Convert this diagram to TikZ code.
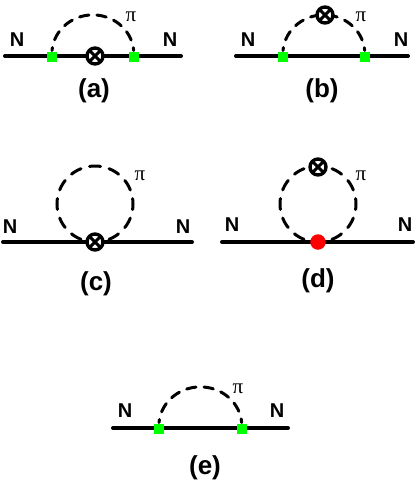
\documentclass[tikz,border=0pt]{standalone}
\usepackage{fontspec}
\setmainfont{Liberation Sans}
\newfontfamily\pifont{Liberation Serif}
\usetikzlibrary{backgrounds}
\definecolor{vgreen}{RGB}{0,255,0}
\definecolor{vred}{RGB}{255,0,0}
\tikzset{
  x=1pt,y=-1pt,
  nucleon/.style={line width=4pt,line cap=round},
  pion/.style={line width=3pt,line cap=round,dash pattern=on 9.5pt off 8pt,dash phase=6.5pt},
  pionloop/.style={line width=3pt,line cap=round,dash pattern=on 11pt off 8.9pt,dash phase=5.5pt},
  vertexg/.style={fill=vgreen,draw=none,minimum size=10pt,inner sep=0pt,rectangle},
  vertexr/.style={fill=vred,draw=none,minimum size=15.5pt,inner sep=0pt,circle},
  insertion/.style={circle,draw=black,line width=3.4pt,fill=white,minimum size=16pt,inner sep=0pt,
    path picture={\draw[line width=3pt]
      (path picture bounding box.north west)--(path picture bounding box.south east)
      (path picture bounding box.north east)--(path picture bounding box.south west);}},
  nlabel/.style={font=\bfseries\fontsize{20}{20}\selectfont,inner sep=0pt},
  plabel/.style={font=\bfseries\fontsize{26}{26}\selectfont,inner sep=0pt},
  pilabel/.style={font=\pifont\fontsize{21}{21}\selectfont,inner sep=0pt},
}
\begin{document}
\begin{tikzpicture}
\useasboundingbox (0,0) rectangle (415,482);
% (a)
\coordinate (al) at (5,56); \coordinate (ar) at (181,56);
\node[vertexg] (a1) at (52,56.5) {};
\node[vertexg] (a2) at (134,56.5) {};
\node[insertion] (ax) at (95,56) {};
\node[nlabel] (aN1) at (17,40) {N};
\node[nlabel] (aN2) at (170,40) {N};
\node[pilabel] (api) at (131,17) {π};
\node[plabel] (at) at (94,91) {(a)};
\begin{pgfonlayer}{background}
\draw[nucleon] (al) -- (ar);
\draw[pion] (a1) ++(0,-6) arc[start angle=-175,end angle=-5,x radius=41,y radius=39];
\end{pgfonlayer}
% (b)
\coordinate (bl) at (236,56); \coordinate (br) at (408,56);
\node[vertexg] (b1) at (283,56.5) {};
\node[vertexg] (b2) at (365,56.5) {};
\node[insertion] (bx) at (325,15) {};
\node[nlabel] (bN1) at (248,40) {N};
\node[nlabel] (bN2) at (401,40) {N};
\node[pilabel] (bpi) at (361,17) {π};
\node[plabel] (bt) at (322,91) {(b)};
\begin{pgfonlayer}{background}
\draw[nucleon] (bl) -- (br);
\draw[pion] (b1) ++(0,-6) arc[start angle=-175,end angle=-5,x radius=41,y radius=39];
\end{pgfonlayer}
% (c)
\coordinate (cl) at (3,242); \coordinate (cr) at (192,242);
\node[insertion] (cx) at (95,242) {};
\node[nlabel] (cN1) at (10,227) {N};
\node[nlabel] (cN2) at (183,227) {N};
\node[pilabel] (cpi) at (140,176) {π};
\node[plabel] (ct) at (96,284) {(c)};
\begin{pgfonlayer}{background}
\draw[nucleon] (cl) -- (cr);
\draw[pionloop] (cx) arc[start angle=90,end angle=450,radius=38];
\end{pgfonlayer}
% (d)
\coordinate (dl) at (222,242); \coordinate (dr) at (413,242);
\node[vertexr] (dv) at (318,242) {};
\node[insertion] (dx) at (318,167) {};
\node[nlabel] (dN1) at (232,225) {N};
\node[nlabel] (dN2) at (405,225) {N};
\node[pilabel] (dpi) at (361,176) {π};
\node[plabel] (dt) at (318,281) {(d)};
\begin{pgfonlayer}{background}
\draw[nucleon] (dl) -- (dr);
\draw[pionloop] (dv) arc[start angle=90,end angle=450,radius=38];
\end{pgfonlayer}
% (e)
\coordinate (el) at (113,428); \coordinate (er) at (288,428);
\node[vertexg] (e1) at (159,428.5) {};
\node[vertexg] (e2) at (242,428.5) {};
\node[nlabel] (eN1) at (125,411) {N};
\node[nlabel] (eN2) at (277,411) {N};
\node[pilabel] (epi) at (238,389) {π};
\node[plabel] (et) at (205,468) {(e)};
\begin{pgfonlayer}{background}
\draw[nucleon] (el) -- (er);
\draw[pion] (e1) ++(0,-6) arc[start angle=-175,end angle=-5,x radius=41.5,y radius=39];
\end{pgfonlayer}
\end{tikzpicture}
\end{document}
